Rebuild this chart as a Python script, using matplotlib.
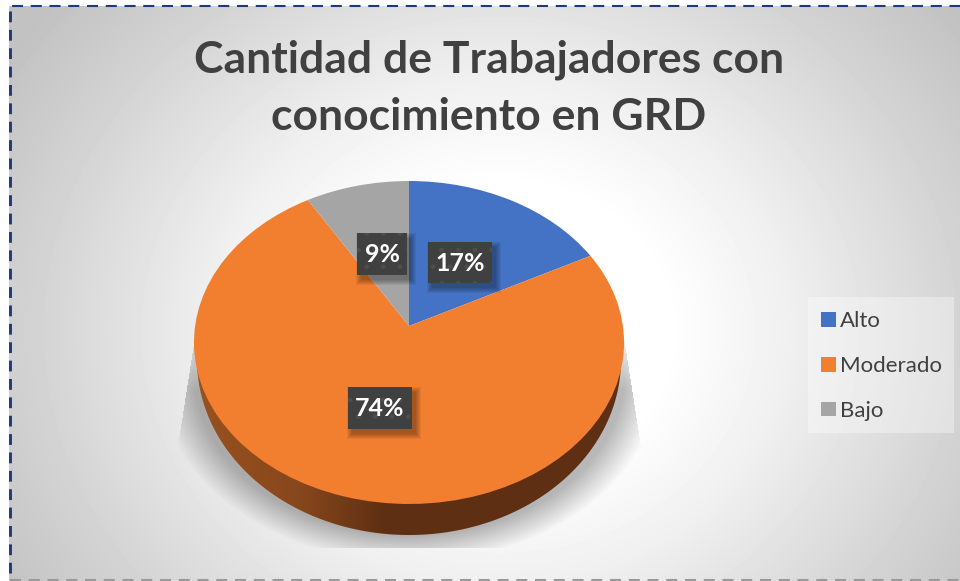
import numpy as np
import matplotlib
matplotlib.use("Agg")
import matplotlib.pyplot as plt
from matplotlib.patches import Polygon, Rectangle
from matplotlib.transforms import Transform

title = "Cantidad de Trabajadores con\nconocimiento en GRD"
categories = ["Alto", "Moderado", "Bajo"]
values = [17.4, 74.0, 8.6]
colors = ["#4472c4", "#f27f30", "#a5a5a5"]
labels = ["17%", "74%", "9%"]


class Tilt(Transform):
    # unit circle -> tilted disc in pixel coordinates
    input_dims = 2
    output_dims = 2

    def transform_non_affine(self, xy):
        xy = np.asarray(xy)
        w = 1 + 0.1022 * xy[:, 1]
        return np.column_stack([409 + 213.9 * xy[:, 0] / w, 326 - 159.8 * xy[:, 1] / w])


fig = plt.figure(figsize=(9.6, 5.81), dpi=100)
ax = fig.add_axes([0, 0, 1, 1])
ax.set_xlim(0, 960)
ax.set_ylim(581, 0)
ax.axis("off")

# background gradient
gx, gy = np.meshgrid(np.arange(960), np.arange(581))
d = np.sqrt(((gx - 500) / 480) ** 2 + ((gy - 330) / 420) ** 2)
bg = np.interp(d, [0.35, 0.6, 0.94, 1.21], [1, 0.94, 0.835, 0.76])
im = ax.imshow(bg, cmap="gray", vmin=0, vmax=1, extent=(0, 960, 581, 0), aspect="auto", zorder=0)
im.set_clip_path(Rectangle((9, 6), 951, 575, transform=ax.transData))

# soft shadow under the pie, cut off along a trapezoid
d = np.sqrt(((gx - 409) / 215) ** 2 + ((gy - 373) / 162) ** 2)
left = 194 - (gy - 340) * 14 / 90
right = 624 + (gy - 340) * 14 / 90
shade = np.clip((1.17 - d) / 0.17, 0, 1) * np.clip((gy - 320) / 70, 0, 1) * 0.28
shade[(gy > 547) | (gx < left) | (gx > right)] = 0
rgba = np.zeros((581, 960, 4))
rgba[..., 3] = shade
ax.imshow(rgba, extent=(0, 960, 581, 0), aspect="auto", zorder=1)

# side wall
t = np.linspace(0, np.pi, 200)
wall = Polygon(np.column_stack([409 + 212 * np.cos(t), 360 + 175 * np.sin(t)]), closed=True,
               transform=ax.transData, fc="none", ec="none")
ax.add_patch(wall)
shine = np.interp(gx, [194, 300, 385, 624], [0.72, 0.5, 0.0, 0.0])
side = np.zeros((581, 960, 3))
side[..., 0] = (94 + (176 - 94) * shine) / 255
side[..., 1] = (47 + (95 - 47) * shine) / 255
side[..., 2] = (18 + (38 - 18) * shine) / 255
sim = ax.imshow(side, extent=(0, 960, 581, 0), aspect="auto", zorder=2)
sim.set_clip_path(wall)
ax.set_xlim(0, 960)
ax.set_ylim(581, 0)

# top face
wedges, _ = ax.pie(values, colors=colors, startangle=90, counterclock=False, frame=False,
                   wedgeprops={"linewidth": 0, "zorder": 3})
ax.set_aspect("auto")
ax.set_xlim(0, 960)
ax.set_ylim(581, 0)
tilt = Tilt()
for w in wedges:
    w.set_transform(tilt + ax.transData)

# data labels
boxes = [(428, 242, 64, 41), (348, 387, 64, 42), (357, 233, 50, 42)]
for (bx, by, bw, bh), lab in zip(boxes, labels):
    for i in range(6, 0, -1):
        ax.add_patch(Rectangle((bx + 5 - i, by + 6 - i), bw + 2 * i - 2, bh + 2 * i - 2, fc="black",
                               ec="none", alpha=0.06, zorder=4))
    ax.add_patch(Rectangle((bx, by), bw, bh, fc="#404040", ec="none", zorder=5))
    ax.add_patch(Rectangle((bx, by), bw, bh, fc="none", ec="#4d4d4d", lw=0, hatch=".", zorder=5))
    ax.text(bx + bw / 2, by + bh / 2 + 1, lab, color="white", fontsize=18, fontweight="bold",
            family="Lato", ha="center", va="center", zorder=6)

ax.text(489, 88, title, color="#404040", fontsize=32, fontweight="bold", family="Lato",
        ha="center", va="center", linespacing=1.53, zorder=6)

# legend
ax.add_patch(Rectangle((808, 297), 146, 136, fc="white", ec="none", alpha=0.35, zorder=3))
leg = ax.legend(wedges, categories, loc="upper left", bbox_to_anchor=(817, 307), bbox_transform=ax.transData,
                frameon=False, prop={"family": "Lato", "size": 16}, labelcolor="#404040",
                handlelength=0.65, handleheight=0.65, handletextpad=0.17, labelspacing=1.11,
                borderpad=0.2, borderaxespad=0)
leg.set_zorder(6)

# dashed border
ax.plot((9.5, 9.5), (11, 581), color="#1f3a78", lw=2.1, ls=(0, (3.7, 2.6)), zorder=7)
ax.plot((12, 960), (6, 6), color="#1f3a78", lw=1.5, ls=(0, (5.3, 3.7)), zorder=7)
ax.plot((10, 960), (580, 580), color="#9a9a9a", lw=1.5, ls=(0, (5.3, 3.7)), zorder=7)

fig.savefig("out.png", dpi=100)
